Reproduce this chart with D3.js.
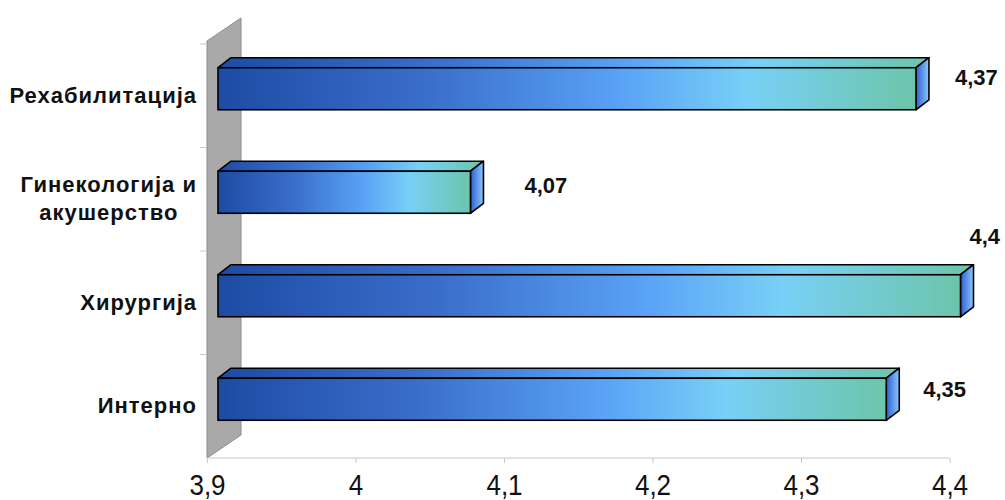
<!DOCTYPE html>
<html>
<head>
<meta charset="utf-8">
<script src="https://cdn.jsdelivr.net/npm/d3@7"></script>
<style>
  html, body { margin: 0; padding: 0; background: #fff; }
  svg { display: block; }
  text { font-family: "Liberation Sans", Arial, sans-serif; }
</style>
</head>
<body>
<svg id="chart" width="1005" height="500"></svg>
<script>
// Categories (top to bottom) and their average scores
const categories = ["Рехабилитација", "Гинекологија и\nакушерство", "Хирургија", "Интерно"];
const values = [4.37, 4.07, 4.4, 4.35];
const valueLabels = ["4,37", "4,07", "4,4", "4,35"];
const tickValues = [3.9, 4.0, 4.1, 4.2, 4.3, 4.4];
const tickLabels = ["3,9", "4", "4,1", "4,2", "4,3", "4,4"];

// Where each value label's baseline sits relative to the bar end / bar middle (dx, dy)
const labelNudge = [[26, -4], [41, 1], [-4, -52], [24, -2]];

const svg = d3.select("#chart");

// Plot geometry
const x = d3.scaleLinear().domain([3.9, 4.4]).range([207, 949.5]);
const y = d3.scaleBand().domain(categories).range([44, 458]).paddingInner(0.594).paddingOuter(0.297);
const floorDepth = { dx: 34, dy: -23 };   // depth of the wall / floor
const barFront = { dx: 11, dy: -7 };      // front face of bars behind the axis plane
const barDepth = { dx: 13, dy: -10 };     // thickness of each bar

const defs = svg.append("defs");
const frontGrad = defs.append("linearGradient").attr("id", "barGrad")
  .attr("x1", 0).attr("x2", 1).attr("y1", 0).attr("y2", 0);
[[0, "#1d4ba4"], [0.3, "#3a6ecb"], [0.58, "#5aa3f6"], [0.76, "#78d0f6"], [1, "#6cc5aa"]]
  .forEach(([o, c]) => frontGrad.append("stop").attr("offset", o).attr("stop-color", c));
const sideGrad = defs.append("linearGradient").attr("id", "sideGrad")
  .attr("x1", 0).attr("x2", 1).attr("y1", 0).attr("y2", 0);
[[0, "#2c5fd0"], [1, "#8cc8ff"]]
  .forEach(([o, c]) => sideGrad.append("stop").attr("offset", o).attr("stop-color", c));

// Back wall
const [y0, y1] = y.range();
const x0 = x.range()[0];
svg.append("polygon")
  .attr("points", [
    [x0, y0 - 3], [x0 + floorDepth.dx, y0 - 3 + floorDepth.dy],
    [x0 + floorDepth.dx, y1 + floorDepth.dy], [x0, y1]
  ].map(p => p.join(",")).join(" "))
  .attr("fill", "#a9a9a9").attr("stroke", "#8c8c8c").attr("stroke-width", 1);

// Category tick marks on the left edge
const bounds = categories.map(c => y(c) - y.step() * y.paddingInner() / 2);
svg.append("g").selectAll("line").data(bounds).join("line")
  .attr("x1", x0 - 7).attr("x2", x0).attr("y1", d => d).attr("y2", d => d)
  .attr("stroke", "#c8c8c8").attr("stroke-width", 1);

// Value axis along the front edge
const axisG = svg.append("g").attr("transform", `translate(0,${y1})`);
axisG.call(d3.axisBottom(x).tickValues(tickValues).tickSize(5).tickFormat(""));
axisG.select(".domain").attr("stroke", "#c8c8c8").attr("d", `M${x0},0H${x.range()[1]}`);
axisG.selectAll(".tick line").attr("stroke", "#c8c8c8");
axisG.selectAll(".tick text").remove();
axisG.selectAll(".tick").append("text")
  .attr("transform", "translate(0,37) scale(1,1.1)")
  .attr("text-anchor", "middle")
  .attr("fill", "#111")
  .style("font-size", "26px")
  .text((d, i) => tickLabels[i]);

// Bars
const bars = svg.append("g").selectAll("g").data(categories).join("g");
bars.each(function (c, i) {
  const g = d3.select(this);
  const bh = y.bandwidth();
  const left = x(3.9) + barFront.dx;
  const right = x(values[i]) + barFront.dx;
  const top = y(c) + barFront.dy;
  const bot = top + bh;
  const ddx = barDepth.dx, ddy = barDepth.dy;
  const pts = a => a.map(p => p.join(",")).join(" ");
  // top face
  g.append("polygon")
    .attr("points", pts([[left, top], [left + ddx, top + ddy], [right + ddx, top + ddy], [right, top]]))
    .attr("fill", "url(#barGrad)").attr("stroke", "#000").attr("stroke-width", 1.6)
    .attr("stroke-linejoin", "round");
  // end face
  g.append("polygon")
    .attr("points", pts([[right, top], [right + ddx, top + ddy], [right + ddx, bot + ddy], [right, bot]]))
    .attr("fill", "url(#sideGrad)").attr("stroke", "#000").attr("stroke-width", 1.6)
    .attr("stroke-linejoin", "round");
  // front face
  g.append("rect")
    .attr("x", left).attr("y", top).attr("width", right - left).attr("height", bh)
    .attr("fill", "url(#barGrad)").attr("stroke", "#000").attr("stroke-width", 1.6);
  // value label
  g.append("text")
    .attr("x", right + ddx + labelNudge[i][0])
    .attr("y", top + bh / 2 + labelNudge[i][1])
    .attr("fill", "#111")
    .style("font-size", "22px").style("font-weight", "bold")
    .text(valueLabels[i]);
});

// Category labels, right-aligned as a block; multi-line labels centred within it
const labelRight = 197;
const catG = svg.append("g");
categories.forEach(c => {
  const lines = c.split("\n");
  const cy = y(c) + y.bandwidth() / 2;
  const lh = 28;
  const t = catG.append("g");
  const texts = lines.map((ln, k) => t.append("text")
    .attr("y", cy + (k - (lines.length - 1) / 2) * lh + 7)
    .attr("fill", "#111")
    .style("font-size", "22px").style("font-weight", "bold").style("letter-spacing", "1px")
    .text(ln));
  const widths = texts.map(tx => tx.node().getComputedTextLength());
  const maxW = d3.max(widths);
  texts.forEach((tx, k) => tx.attr("x", labelRight - maxW / 2 - widths[k] / 2));
});
</script>
</body>
</html>
